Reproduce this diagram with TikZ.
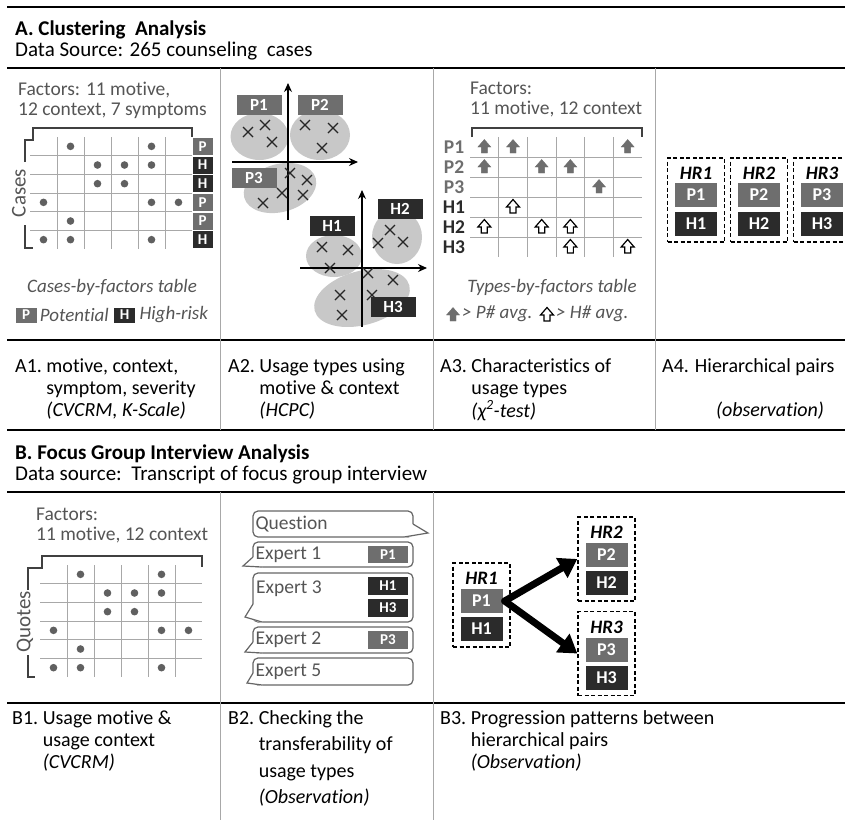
\documentclass[tikz,border=0pt]{standalone}
\usepackage{fontspec}
\setmainfont{Carlito}[Ligatures=NoCommon]
\usetikzlibrary{arrows.meta,positioning}

\definecolor{pgray}{HTML}{6E6E6E}
\definecolor{hdark}{HTML}{2B2B2B}
\definecolor{blobc}{HTML}{C8C8C8}
\definecolor{softtxt}{HTML}{555555}
\definecolor{gridc}{HTML}{A8A8A8}
\definecolor{dotc}{HTML}{606060}

\newcommand{\headfont}{\fontsize{21}{22}\selectfont}
\newcommand{\stepfont}{\fontsize{20}{22}\selectfont}
\newcommand{\softfont}{\fontsize{19.5}{20}\selectfont}

% up arrow of the types-by-factors table: x, y, style
\newcommand{\fatup}[3]{\draw[#3] (#1-3,#2+6) -- (#1-3,#2) -- (#1-6.5,#2) -- (#1,#2-7.5) -- (#1+6.5,#2) -- (#1+3,#2) -- (#1+3,#2+6) -- cycle;}
% tail of a speech bubble: tip x, tip y, join y, bottom y
\newcommand{\btail}[4]{%
  \fill[white] (253,#3) -- (#1,#2) -- (262,#4+1) -- (262,#3) -- cycle;
  \draw[bubline] (253,#3) -- (#1,#2) -- (262,#4);}

\tikzset{
  rule/.style={line width=2.2pt},
  sepline/.style={draw=gridc, line width=0.9pt},
  gridline/.style={draw=gridc, line width=0.8pt},
  brace/.style={draw=black!75, line width=1.1pt},
  plabel/.style={fill=pgray, text=white, font=\bfseries\fontsize{17}{17}\selectfont, inner sep=0pt, minimum width=45pt, minimum height=20pt},
  hlabel/.style={plabel, fill=hdark},
  pcell/.style={fill=pgray, text=white, font=\bfseries\fontsize{15}{15}\selectfont, inner sep=0pt, minimum width=20pt, minimum height=17pt},
  hcell/.style={pcell, fill=hdark},
  pair/.style={fill=pgray, text=white, font=\bfseries\fontsize{18}{18}\selectfont, inner sep=0pt, minimum width=42pt, minimum height=24pt},
  hpair/.style={pair, fill=hdark},
  hrbox/.style={draw, dash pattern=on 4pt off 2.5pt, line width=1.3pt, minimum width=57pt, minimum height=84pt, inner sep=0pt},
  hrtext/.style={font=\bfseries\itshape\fontsize{19}{19}\selectfont, inner sep=0pt},
  crossline/.style={draw=black!85, line width=1.1pt},
  axis/.style={line width=1.1pt, -{Stealth[length=9pt,width=8pt]}},
  soft/.style={text=softtxt, font=\softfont, align=left, inner sep=0pt},
  sidename/.style={text=softtxt, font=\fontsize{21}{21}\selectfont, inner sep=0pt, rotate=90},
  tblname/.style={text=softtxt, font=\itshape\fontsize{19}{20}\selectfont, inner sep=0pt},
  stepcol/.style={font=\stepfont, inner sep=0pt, anchor=base west},
  upfill/.style={fill=pgray, draw=pgray, line width=0.4pt},
  upline/.style={fill=white, draw=black, line width=1.2pt},
  bubline/.style={draw=black!60, line width=1.2pt},
  bubble/.style={bubline, rounded corners=5pt, fill=white, minimum width=160pt, inner sep=0pt},
  bubtxt/.style={text=softtxt, font=\softfont, inner sep=0pt},
  bigarrow/.style={line width=7pt, line cap=round, -{Triangle[length=18pt,width=22pt]}}
}

\begin{document}
\begin{tikzpicture}[x=1pt,y=-1pt]
  \useasboundingbox (0,0) rectangle (845,820);
  \clip (0,0) rectangle (845,820);
  \fill[white] (0,0) rectangle (845,820);

  %--- rules and separators ---
  \foreach \ry in {7,68,340,430,492,703}
    \draw[rule] (7,\ry) -- (845,\ry);
  \foreach \sx in {220,433,655}
    \draw[sepline] (\sx,68) -- (\sx,430);
  \foreach \sx in {220,433}
    \draw[sepline] (\sx,492) -- (\sx,820);

  %--- headings ---
  \node[anchor=west, inner sep=0pt, font=\bfseries\headfont] (headA) at (15,30) {A. Clustering\ \ Analysis};
  \node[anchor=west, inner sep=0pt, font=\headfont] (srcA) at (15,51) {Data Source: 265 counseling\ \ cases};
  \node[anchor=west, inner sep=0pt, font=\bfseries\headfont] (headB) at (15,454) {B. Focus Group Interview Analysis};
  \node[anchor=west, inner sep=0pt, font=\headfont] (srcB) at (15,475) {Data source:\ \ Transcript of focus group interview};

  %--- A1: cases-by-factors table ---
  \node[soft, anchor=north west] (a1fac) at (18,82) {Factors: 11 motive,\\12 context, 7 symptoms};
  \draw[brace] (25,162) -- (25,140) -- (33,140) -- (33,128) -- (192,128) -- (192,137);
  \draw[brace] (25,225) -- (25,248) -- (33,248);
  \node[sidename] (a1cases) at (19,193) {Cases};
  \foreach \gx in {57,84,111,138,165}
    \draw[gridline] (\gx,137) -- (\gx,249);
  \foreach \gy in {155.7,174.3,193,211.7,230.3}
    \draw[gridline] (30,\gy) -- (192,\gy);
  \foreach \c/\r in {2/1,5/1,3/2,4/2,5/2,3/3,4/3,1/4,5/4,6/4,2/5,1/6,2/6,5/6}
    \fill[dotc] ({30+27*(\c-0.5)},{137+18.67*(\r-0.5)}) circle (3.8);
  \foreach \r in {1,4,5}
    \node[pcell] (a1tag\r) at (202.5,{137+18.67*(\r-0.5)}) {P};
  \foreach \r in {2,3,6}
    \node[hcell] (a1tag\r) at (202.5,{137+18.67*(\r-0.5)}) {H};
  \node[tblname] (a1tbl) at (112,287) {Cases-by-factors table};
  \node[pcell, minimum width=21pt, minimum height=15pt] (legP) at (26,315) {P};
  \node[tblname, right=3pt of legP] (legPtxt) {Potential};
  \node[hcell, minimum width=21pt, minimum height=15pt, right=5pt of legPtxt] (legH) {H};
  \node[tblname, right=4pt of legH] (legHtxt) {High-risk};

  %--- A2: usage types (HCPC) ---
  \fill[blobc] (259.5,136.5) ellipse (29 and 23.5);
  \fill[blobc] (320,135) ellipse (30 and 25);
  \fill[blobc, rotate around={15:(280,188)}] (280,188) ellipse (37 and 24);
  \fill[blobc] (334,256) ellipse (28 and 21);
  \fill[blobc] (397,237) ellipse (25 and 27);
  \fill[blobc, rotate around={15:(362,298)}] (362,298) ellipse (49 and 27);
  \draw[axis] (288,220) -- (288,83);
  \draw[axis] (232,162) -- (358,162);
  \draw[axis] (362,327) -- (362,190);
  \draw[axis] (300,268) -- (427,268);
  \foreach \cx/\cy in {248/132,265/125,272/142,305/125,333/128,322/148,
                       290/173,307/180,282/193,303/195,263/203,
                       322/247,348/250,330/268,390/230,378/243,403/242,
                       368/273,393/280,372/295,340/295,342/315}
    \draw[crossline] (\cx-5,\cy-5) -- (\cx+5,\cy+5) (\cx-5,\cy+5) -- (\cx+5,\cy-5);
  \node[plabel] (a2p1) at (259,105) {P1};
  \node[plabel] (a2p2) at (320,105) {P2};
  \node[plabel] (a2p3) at (254,178) {P3};
  \node[hlabel] (a2h1) at (332,226) {H1};
  \node[hlabel] (a2h2) at (400,209) {H2};
  \node[hlabel] (a2h3) at (393,307) {H3};

  %--- A3: types-by-factors table ---
  \node[soft, anchor=north west] (a3fac) at (470,82) {Factors:\\11 motive, 12 context};
  \draw[brace] (472,137) -- (472,128) -- (642,128) -- (642,137);
  \foreach \gx in {498.7,527.3,556,584.7,613.3}
    \draw[gridline] (\gx,137) -- (\gx,257);
  \foreach \gy in {157,177,197,217,237}
    \draw[gridline] (470,\gy) -- (642,\gy);
  \foreach \r/\t in {1/P1,2/P2,3/P3}
    \node[text=pgray, font=\bfseries\softfont, inner sep=0pt] (a3row\t) at (454,{137+20*(\r-0.5)}) {\t};
  \foreach \r/\t in {4/H1,5/H2,6/H3}
    \node[text=hdark, font=\bfseries\softfont, inner sep=0pt] (a3row\t) at (454,{137+20*(\r-0.5)}) {\t};
  \foreach \c/\r in {1/1,2/1,6/1,1/2,3/2,4/2,5/3} {
    \pgfmathsetmacro\ax{470+28.67*(\c-0.5)}
    \pgfmathsetmacro\ay{137+20*(\r-0.5)}
    \fatup{\ax}{\ay}{upfill}
  }
  \foreach \c/\r in {2/4,1/5,3/5,4/5,4/6,6/6} {
    \pgfmathsetmacro\ax{470+28.67*(\c-0.5)}
    \pgfmathsetmacro\ay{137+20*(\r-0.5)}
    \fatup{\ax}{\ay}{upline}
  }
  \node[tblname] (a3tbl) at (552,287) {Types-by-factors table};
  \fatup{453}{315}{upfill}
  \node[tblname, anchor=west] (a3legP) at (462,314) {> P\# avg.};
  \fatup{547}{315}{upline}
  \node[tblname, anchor=west] (a3legH) at (556,314) {> H\# avg.};

  %--- A4: hierarchical pairs ---
  \foreach \i/\cx in {1/696,2/759,3/822} {
    \node[hrbox] (a4hr\i) at (\cx,200) {};
    \node[hrtext] (a4hrt\i) at (\cx,173) {HR\i};
    \node[pair] (a4p\i) at (\cx,195) {P\i};
    \node[hpair] (a4h\i) at (\cx,223.5) {H\i};
  }

  %--- A steps ---
  \node[stepcol] (a1step) at (15,372) {\begin{tabular}[t]{@{}l@{\ }l@{}}A1. & motive, context,\\ & symptom, severity\\ & \textit{(CVCRM, K-Scale)}\end{tabular}};
  \node[stepcol] (a2step) at (228,372) {\begin{tabular}[t]{@{}l@{\ }l@{}}A2. & Usage types using\\ & motive \& context\\ & \textit{(HCPC)}\end{tabular}};
  \node[stepcol] (a3step) at (440,372) {\begin{tabular}[t]{@{}l@{\ }l@{}}A3. & Characteristics of\\ & usage types\\ & \textit{(χ\textsuperscript{2}-test)}\end{tabular}};
  \node[stepcol] (a4step) at (662,372) {A4. Hierarchical pairs};
  \node[font=\itshape\stepfont, inner sep=0pt, anchor=base] (a4note) at (770,416) {(observation)};

  %--- B1: quotes-by-factors table ---
  \node[soft, anchor=north west] (b1fac) at (36,508) {Factors:\\11 motive, 12 context};
  \draw[brace] (28,590) -- (28,568) -- (42,568) -- (42,556) -- (202,556) -- (202,567);
  \draw[brace] (28,655) -- (28,677) -- (35,677);
  \node[sidename] (b1quotes) at (25,622) {Quotes};
  \begin{scope}[shift={(10,428)}]
    \foreach \gx in {57,84,111,138,165}
      \draw[gridline] (\gx,137) -- (\gx,249);
    \foreach \gy in {155.7,174.3,193,211.7,230.3}
      \draw[gridline] (30,\gy) -- (192,\gy);
    \foreach \c/\r in {2/1,5/1,3/2,4/2,5/2,3/3,4/3,1/4,5/4,6/4,2/5,1/6,2/6,5/6}
      \fill[dotc] ({30+27*(\c-0.5)},{137+18.67*(\r-0.5)}) circle (3.8);
  \end{scope}

  %--- B2: transcript bubbles ---
  \node[bubble, minimum height=26pt] (bq) at (333,524) {};
  \node[bubble, minimum height=25pt] (be1) at (333,554.5) {};
  \node[bubble, minimum height=49pt] (be3) at (333,597.5) {};
  \node[bubble, minimum height=26pt] (be2) at (333,640) {};
  \node[bubble, minimum height=27pt] (be5) at (333,671.5) {};
  \fill[white] (413,524) -- (428,533) -- (404,538) -- (404,524) -- cycle;
  \draw[bubline] (413,524) -- (428,533) -- (404,537);
  \btail{243}{566}{557}{567}
  \btail{245}{617}{604}{622}
  \btail{245}{652}{642}{653}
  \btail{247}{683}{673}{685}
  \node[bubtxt, right=3pt of bq.west] (bqt) {Question};
  \node[bubtxt, right=3pt of be1.west] (be1t) {Expert 1};
  \node[bubtxt, anchor=west] (be3t) at (256,589) {Expert 3};
  \node[bubtxt, right=3pt of be2.west] (be2t) {Expert 2};
  \node[bubtxt, right=3pt of be5.west] (be5t) {Expert 5};
  \node[pcell, minimum width=40pt] (b2p1) at (388,554.5) {P1};
  \node[hcell, minimum width=40pt, minimum height=18pt] (b2h1) at (388,586) {H1};
  \node[hcell, minimum width=40pt, minimum height=18pt] (b2h3) at (388,607.5) {H3};
  \node[pcell, minimum width=40pt, minimum height=18pt] (b2p3) at (388,640) {P3};

  %--- B3: progression between pairs ---
  \node[hrbox] (b3hr1) at (481.5,605) {};
  \node[hrbox] (b3hr2) at (606.5,559) {};
  \node[hrbox] (b3hr3) at (606.5,653.5) {};
  \node[hrtext] (b3hrt1) at (481.5,578) {HR1};
  \node[pair] (b3p1) at (481.5,601) {P1};
  \node[hpair] (b3h1) at (481.5,629) {H1};
  \node[hrtext] (b3hrt2) at (606.5,532) {HR2};
  \node[pair] (b3p2) at (606.5,555) {P2};
  \node[hpair] (b3h2) at (606.5,583) {H2};
  \node[hrtext] (b3hrt3) at (606.5,627) {HR3};
  \node[pair] (b3p3) at (606.5,649.5) {P3};
  \node[hpair] (b3h3) at (606.5,677.5) {H3};
  \draw[bigarrow] ([xshift=2pt]b3p1.east) -- (b3hr2.west);
  \draw[bigarrow] ([xshift=2pt]b3p1.east) -- (b3hr3.west);

  %--- B steps ---
  \begin{scope}[every node/.append style={font=\fontsize{20}{25}\selectfont}]
    \node[stepcol] (b1step) at (12,724) {\begin{tabular}[t]{@{}l@{\ }l@{}}B1. & Usage motive \&\\ & usage context\\ & \textit{(CVCRM)}\end{tabular}};
    \node[stepcol, font=\fontsize{20}{26.5}\selectfont] (b2step) at (228,724) {\begin{tabular}[t]{@{}l@{\ }l@{}}B2. & Checking the\\ & transferability of\\ & usage types\\ & \textit{(Observation)}\end{tabular}};
    \node[stepcol] (b3step) at (440,724) {\begin{tabular}[t]{@{}l@{\ }l@{}}B3. & Progression patterns between\\ & hierarchical pairs\\ & \textit{(Observation)}\end{tabular}};
  \end{scope}
\end{tikzpicture}
\end{document}
